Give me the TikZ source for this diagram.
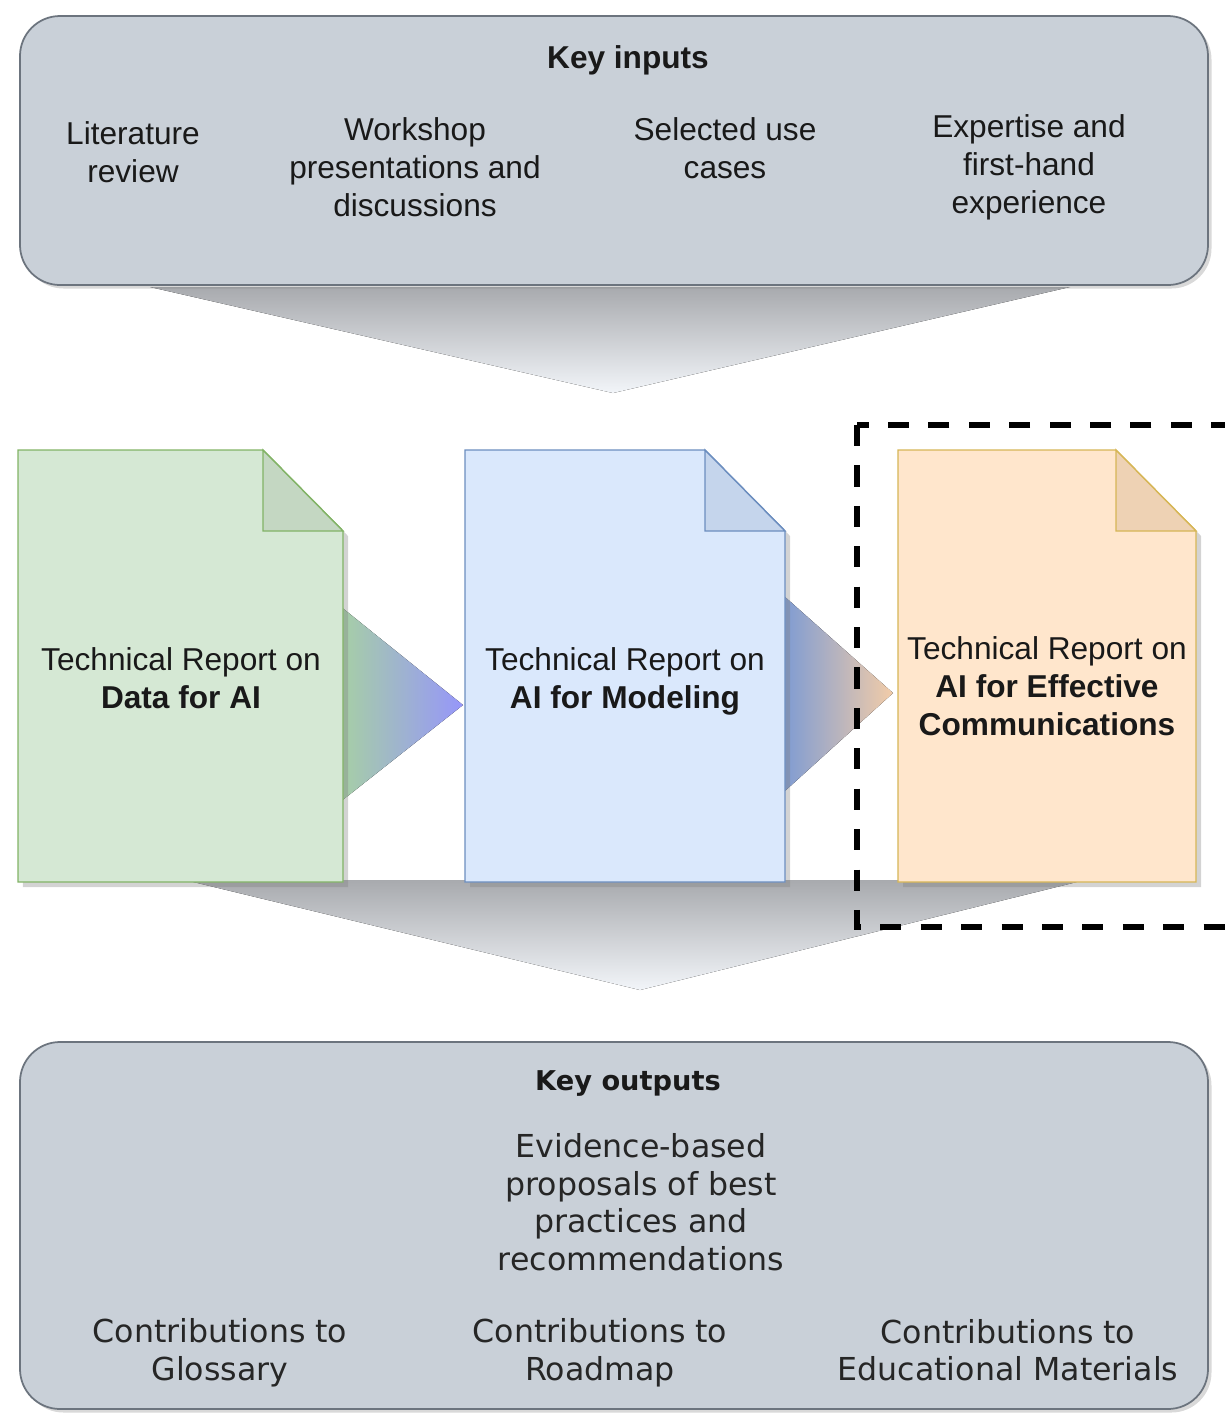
\documentclass[tikz,border=0pt]{standalone}
\usepackage{fontspec}
\setmainfont{Liberation Sans}
\newfontfamily\outfont{DejaVu Sans}
\usetikzlibrary{shadows}

\definecolor{panelfill}{RGB}{201,208,216}
\definecolor{paneldraw}{RGB}{108,116,126}
\definecolor{funneltop}{RGB}{168,170,174}
\definecolor{funnelbot}{RGB}{242,245,249}
\definecolor{greenfill}{HTML}{D5E8D4}
\definecolor{greenline}{HTML}{82B366}
\definecolor{greenfold}{RGB}{196,215,194}
\definecolor{bluefill}{HTML}{DAE8FC}
\definecolor{blueline}{HTML}{6C8EBF}
\definecolor{bluefold}{RGB}{197,213,236}
\definecolor{orangefill}{HTML}{FFE6CC}
\definecolor{orangeline}{HTML}{D6B656}
\definecolor{orangefold}{RGB}{238,210,180}

\begin{document}
\begin{tikzpicture}[x = 0.02cm, y = -0.02cm,
                    panel/.style = {draw = paneldraw,
                                    fill = panelfill,
                                    line width = 1pt,
                                    rounded corners = 0.8cm,
                                    drop shadow = {shadow xshift = 0.07cm,
                                                   shadow yshift = -0.07cm,
                                                   opacity = 0.3}},
                    funnel/.style = {top color = funneltop,
                                     bottom color = funnelbot},
                    doc/.style = {line width = 0.8pt,
                                  drop shadow = {shadow xshift = 0.1cm,
                                                 shadow yshift = -0.1cm,
                                                 opacity = 0.35}},
                    fold/.style = {line width = 0.8pt},
                    txt/.style = {align = center, text = black!90,
                                  font = \fontsize{18}{21.6}\selectfont},
                    head/.style = {txt,
                                   font = \fontsize{18}{21.6}\selectfont\bfseries},
                    outtxt/.style = {align = center, text = black!85,
                                     font = \outfont\fontsize{18}{21.4}\selectfont},
                    outhead/.style = {align = center, text = black!90,
                                      font = \outfont\fontsize{15.5}{19}\selectfont\bfseries},
                    dashbox/.style = {line width = 3.2pt,
                                      dash pattern = on 12pt off 11pt}]

\clip (0,0) rectangle (1225,1418);

% funnels into and out of the reports
\fill[funnel] (150,287) -- (1070,287) -- (613,393) -- cycle;
\fill[funnel] (185,880) -- (1085,880) -- (640,990) -- cycle;

% inputs panel
\draw[panel] (20,16) rectangle (1208,285);

% arrows between the reports
\fill[left color = {rgb,255:red,168;green,212;blue,158},
      right color = {rgb,255:red,150;green,150;blue,250}]
     (330,598) -- (463,705) -- (330,810) -- cycle;
\fill[left color = {rgb,255:red,118;green,152;blue,214},
      right color = {rgb,255:red,242;green,204;blue,168}]
     (775,588) -- (893,693) -- (775,800) -- cycle;

% the three reports
\foreach \c/\l/\r in {green/18/343, blue/465/785, orange/898/1196}
{
  \filldraw[doc, fill = \c fill, draw = \c line]
    (\l,450) -- ({\r-80},450) -- (\r,531) -- (\r,882) -- (\l,882) -- cycle;
  \filldraw[fold, fill = \c fold, draw = \c line]
    ({\r-80},450) -- ({\r-80},531) -- (\r,531) -- cycle;
}

\draw[dashbox] (857,425) rectangle (1270,927);

% outputs panel
\draw[panel] (20,1042) rectangle (1208,1409);

\node[head] (inhead) at (628,60) {Key inputs};
\node[txt] (lit)   at (133,152) {Literature\\review};
\node[txt] (work)  at (415,167) {Workshop\\presentations and\\discussions};
\node[txt] (cases) at (725,148) {Selected use\\cases};
\node[txt] (exp)   at (1029,167) {Expertise and\\first-hand\\experience};

\node[txt] (data)  at (181,678) {Technical Report on\\\textbf{Data for AI}};
\node[txt] (model) at (625,681) {Technical Report on\\\textbf{AI for Modeling}};
\node[txt] (comm)  at (1047,686) {Technical Report on\\\textbf{AI for Effective}\\\textbf{Communications}};

\node[outhead] (outhead) at (628,1083) {Key outputs};
\node[outtxt] (evid)  at (641,1202) {Evidence-based\\proposals of best\\practices and\\recommendations};
\node[outtxt] (gloss) at (220,1353) {Contributions to\\Glossary};
\node[outtxt] (road)  at (600,1353) {Contributions to\\Roadmap};
\node[outtxt] (edu)   at (1008,1350) {Contributions to\\Educational Materials};

\end{tikzpicture}
\end{document}
